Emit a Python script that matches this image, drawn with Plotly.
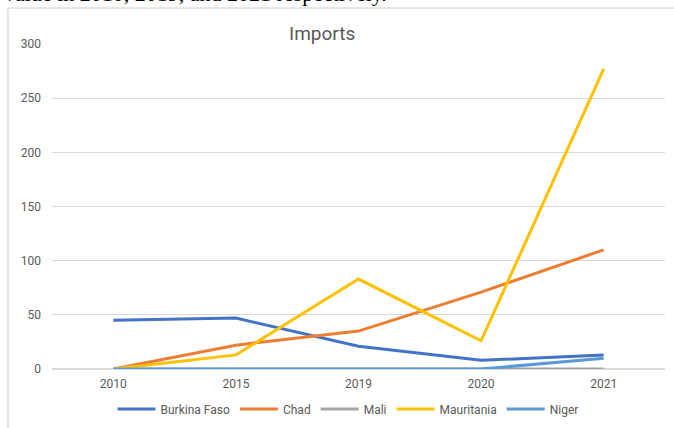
import plotly.graph_objects as go

years = ["2010", "2015", "2019", "2020", "2021"]
burkina = [45, 47, 21, 8, 13]
chad = [0, 22, 35, 71, 110]
mali = [0, 0, 0, 0, 0]
mauritania = [0, 13, 83, 26, 277]
niger = [0, 0, 0, 0, 10]

series = [
    ("Burkina Faso", burkina, "#4472c4"),
    ("Chad", chad, "#ed7d31"),
    ("Mali", mali, "#a5a5a5"),
    ("Mauritania", mauritania, "#ffc000"),
    ("Niger", niger, "#5b9bd5"),
]

W, H = 674, 428
L, R, T, B = 52, 9, 44, 59
pw, ph = W - L - R, H - T - B

def px(x):
    return (x - L) / pw

def py(y):
    return (H - B - y) / ph

fig = go.Figure()
for name, vals, col in series:
    fig.add_trace(go.Scatter(x=years, y=vals, name=name, mode="lines",
                             line=dict(color=col, width=3)))

font = "Liberation Sans Narrow, Roboto, Arial"
fig.update_layout(
    width=W, height=H,
    margin=dict(l=L, r=R, t=T, b=B, autoexpand=False),
    paper_bgcolor="white", plot_bgcolor="white",
    title=dict(text="Imports", x=px(345), xanchor="center", y=1 - 33 / H, yanchor="middle",
               font=dict(family=font, size=19, color="#595959")),
    xaxis=dict(type="category", showgrid=False, zeroline=False, showline=False,
               tickfont=dict(family=font, size=12, color="#595959"), ticks="",
               range=[-0.5, 4.5], ticklabelstandoff=6),
    yaxis=dict(range=[0, 300], dtick=50, showgrid=True, gridcolor="#d9d9d9", gridwidth=1,
               zeroline=True, zerolinecolor="#d9d9d9", showline=False,
               tickfont=dict(family=font, size=12, color="#595959"), ticks="",
               ticklabelstandoff=10),
    legend=dict(orientation="h", xref="container", yref="container",
                x=px(348) * pw / W + L / W, xanchor="center", y=1 - 409 / H, yanchor="middle",
                font=dict(family=font, size=12, color="#595959"), itemwidth=38,
                bgcolor="rgba(0,0,0,0)"),
    showlegend=True,
)

fig.add_shape(type="line", xref="paper", yref="paper",
              x0=px(8), x1=px(8), y0=py(8), y1=py(440),
              line=dict(color="#d0d0d0", width=1))
fig.add_shape(type="line", xref="paper", yref="paper",
              x0=px(8), x1=px(680), y0=py(8), y1=py(8),
              line=dict(color="#d0d0d0", width=1))

fig.add_annotation(text="value in 2010, 2019, and 2021 respectively.", xref="paper", yref="paper",
                   x=px(2), xanchor="left", y=py(8), yanchor="bottom", showarrow=False,
                   font=dict(family="Liberation Serif, DejaVu Serif", size=22, color="black"))

fig.write_html("out.html")
